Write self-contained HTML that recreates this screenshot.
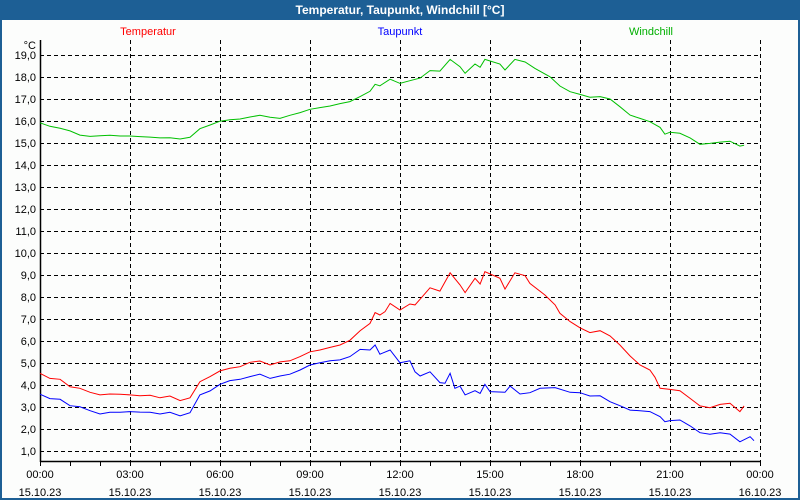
<!DOCTYPE html>
<html><head><meta charset="utf-8">
<style>
html,body{margin:0;padding:0;}
body{width:800px;height:500px;overflow:hidden;background:#fff;font-family:"Liberation Sans",sans-serif;}
#frame{position:absolute;left:0;top:0;width:796px;height:498px;border:2px solid #1d5f95;border-top:none;background:#fcfdfc;}
#title{position:absolute;left:0;top:0;width:800px;height:20px;background:#1d5f95;color:#fff;font-weight:bold;font-size:12px;line-height:20px;text-align:center;}
svg{position:absolute;left:0;top:0;}
</style></head>
<body>
<div id="frame"></div>
<div id="title">Temperatur, Taupunkt, Windchill [°C]</div>
<svg id="chart" width="800" height="500"></svg>
<script>
const yTicks=[1,2,3,4,5,6,7,8,9,10,11,12,13,14,15,16,17,18,19];
const xTickHours=[0,3,6,9,12,15,18,21,24];
const xTickTimes=["00:00","03:00","06:00","09:00","12:00","15:00","18:00","21:00","00:00"];
const xTickDates=["15.10.23","15.10.23","15.10.23","15.10.23","15.10.23","15.10.23","15.10.23","15.10.23","16.10.23"];
const tempHours=[0,0.33,0.67,1,1.33,1.67,2,2.33,2.67,3,3.33,3.67,4,4.33,4.67,5,5.33,5.67,6,6.33,6.67,7,7.33,7.67,8,8.33,8.67,9,9.33,9.67,10,10.33,10.67,11,11.17,11.33,11.5,11.67,12,12.33,12.5,12.67,13,13.33,13.67,14,14.17,14.5,14.67,14.83,15.33,15.5,15.83,16.17,16.33,16.83,17.17,17.33,17.67,18,18.33,18.67,19,19.33,19.67,20,20.33,20.5,20.67,21,21.33,21.67,22,22.33,22.67,23,23.33,23.47];
const tempValues=[4.53,4.30,4.26,3.92,3.85,3.67,3.55,3.59,3.58,3.55,3.51,3.53,3.42,3.5,3.29,3.42,4.15,4.38,4.64,4.76,4.83,5.03,5.09,4.91,5.05,5.10,5.29,5.51,5.59,5.71,5.82,6.03,6.47,6.8,7.29,7.18,7.33,7.71,7.41,7.68,7.64,7.9,8.42,8.27,9.1,8.55,8.2,8.85,8.59,9.15,8.85,8.36,9.1,8.97,8.62,8.09,7.64,7.26,6.88,6.6,6.38,6.47,6.23,5.82,5.32,4.91,4.68,4.35,3.85,3.8,3.74,3.39,3.05,2.97,3.12,3.17,2.79,3.05,2.9];
const dewHours=[0,0.33,0.67,1,1.33,1.67,2,2.33,2.67,3,3.33,3.67,4,4.33,4.67,5,5.33,5.67,6,6.33,6.67,7,7.33,7.67,8,8.33,8.67,9,9.33,9.67,10,10.33,10.67,11,11.17,11.33,11.67,12,12.33,12.5,12.67,13,13.33,13.5,13.67,13.83,14,14.17,14.5,14.67,14.83,15,15.5,15.67,16,16.33,16.67,17.17,17.67,18,18.33,18.67,19,19.33,19.67,20,20.33,20.67,20.83,21,21.33,21.67,22,22.33,22.67,23,23.33,23.67,23.8];
const dewValues=[3.58,3.38,3.35,3.06,3.01,2.83,2.68,2.76,2.76,2.79,2.77,2.76,2.68,2.76,2.60,2.74,3.55,3.73,4.03,4.2,4.26,4.38,4.49,4.3,4.41,4.49,4.68,4.91,5.01,5.10,5.14,5.29,5.62,5.59,5.82,5.40,5.59,5.01,5.1,4.6,4.41,4.6,4.11,4.08,4.53,3.85,3.95,3.55,3.74,3.62,4.03,3.70,3.67,3.95,3.59,3.65,3.85,3.88,3.67,3.65,3.50,3.51,3.24,3.06,2.86,2.83,2.79,2.56,2.33,2.38,2.41,2.14,1.83,1.76,1.83,1.77,1.42,1.65,1.47];
const windHours=[0,0.33,0.67,1,1.33,1.67,2,2.33,2.67,3,3.33,3.67,4,4.33,4.67,5,5.33,5.67,6,6.33,6.67,7,7.33,7.67,8,8.33,8.67,9,9.33,9.67,10,10.33,10.67,11,11.17,11.33,11.67,12,12.33,12.67,13,13.33,13.67,14,14.17,14.5,14.67,14.83,15.33,15.5,15.83,16.17,16.5,17,17.33,17.67,18,18.33,18.67,19,19.33,19.67,20,20.33,20.67,20.83,21,21.33,21.67,22,22.33,22.67,23,23.33,23.47];
const windValues=[15.92,15.76,15.67,15.55,15.36,15.30,15.33,15.35,15.32,15.32,15.29,15.27,15.23,15.24,15.18,15.26,15.65,15.82,15.99,16.06,16.09,16.18,16.26,16.17,16.12,16.26,16.38,16.53,16.61,16.68,16.79,16.88,17.11,17.35,17.67,17.6,17.9,17.71,17.83,17.95,18.29,18.27,18.8,18.47,18.17,18.59,18.44,18.8,18.59,18.32,18.8,18.68,18.39,18.01,17.59,17.33,17.21,17.08,17.11,17.0,16.65,16.27,16.12,15.97,15.71,15.4,15.49,15.44,15.23,14.94,14.98,15.04,15.08,14.86,14.9];

const NS='http://www.w3.org/2000/svg';
const svg=document.getElementById('chart');
const X0=40,X1=760,Y0=461;
function xs(h){return X0+(X1-X0)*h/24;}
function ys(v){return 451-(v-1)*22;}
function mk(tag,attrs,parent){const e=document.createElementNS(NS,tag);for(const k in attrs)e.setAttribute(k,attrs[k]);(parent||svg).appendChild(e);return e;}

// horizontal grid + y labels
yTicks.forEach(v=>{
  const g=mk('line',{x1:X0,x2:X1,y1:ys(v)+0.5,y2:ys(v)+0.5,stroke:'#000','stroke-width':1,'stroke-dasharray':'4,3'});
  
  
  const t=mk('text',{x:36,y:ys(v)+4,'text-anchor':'end','font-size':11,fill:'#000'});
  t.textContent=v.toFixed(1).replace('.',',');
  
  
});
// vertical grid
xTickHours.forEach((h,i)=>{
  if(i>0){
    const g=mk('line',{x1:xs(h)+0.5,x2:xs(h)+0.5,y1:40,y2:Y0,stroke:'#000','stroke-width':1,'stroke-dasharray':'4,3'});
    
    
  }
  const t1=mk('text',{x:xs(h),y:478,'text-anchor':'middle','font-size':11,fill:'#000'});
  t1.textContent=xTickTimes[i];
  
  
  const t2=mk('text',{x:xs(h),y:496,'text-anchor':'middle','font-size':11,fill:'#000'});
  t2.textContent=xTickDates[i];
  
  
});
// hourly minor ticks
for(let h=0;h<=24;h++){
  const tk=mk('line',{x1:xs(h)+0.5,x2:xs(h)+0.5,y1:Y0,y2:Y0+5,stroke:'#000'});
  
  
}
// axes
const ya=mk('line',{x1:X0+0.5,x2:X0+0.5,y1:40,y2:Y0+1,stroke:'#000','stroke-width':1.5});


const xa=mk('line',{x1:X0,x2:X1+1,y1:Y0+0.5,y2:Y0+0.5,stroke:'#000','stroke-width':1.5});


const unit=mk('text',{x:36,y:49,'text-anchor':'end','font-size':11,fill:'#000'});
unit.textContent='°C';



// series
function series(hours,vals,color,name){
  const pts=hours.map((h,i)=>xs(h).toFixed(1)+','+ys(vals[i]).toFixed(1)).join(' ');
  const p=mk('polyline',{points:pts,fill:'none',stroke:color,'stroke-width':1});
  
  
}
series(windHours,windValues,'#00c000','windchill-line');
series(tempHours,tempValues,'#ff0000','temperature-line');
series(dewHours,dewValues,'#0000ff','dewpoint-line');

// legend
[['Temperatur','#ff0000',148],['Taupunkt','#0000ff',400],['Windchill','#00b000',651]].forEach(l=>{
  const t=mk('text',{x:l[2],y:35,'text-anchor':'middle','font-size':11,fill:l[1]});
  t.textContent=l[0];
  
  
});
</script>
</body></html>
